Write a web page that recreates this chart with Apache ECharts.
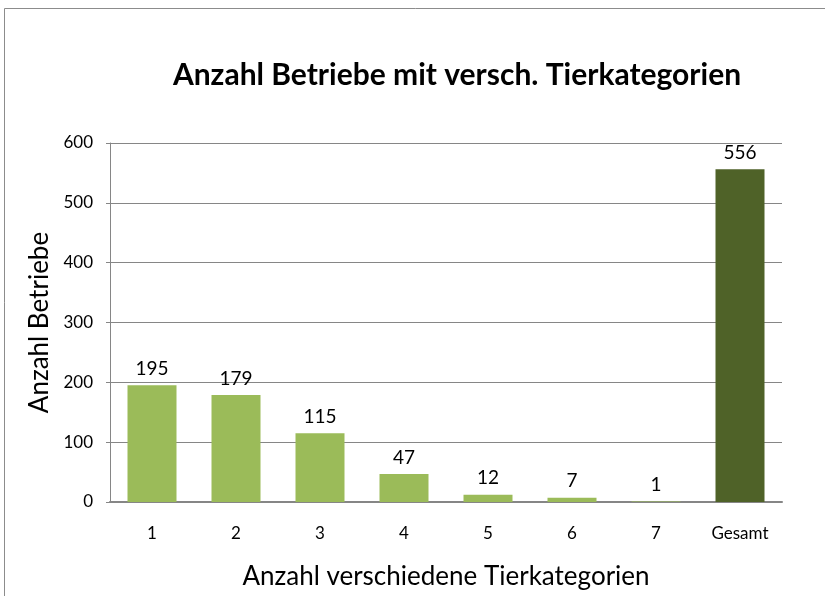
<!DOCTYPE html>
<html><head><meta charset="utf-8">
<script src="https://cdn.jsdelivr.net/npm/echarts@6/dist/echarts.min.js"></script>
<style>html,body{margin:0;padding:0;background:#fff}#c{width:825px;height:596px}</style>
</head><body><div id="c"></div>
<script>
var categories = ['1','2','3','4','5','6','7','Gesamt'];
var values = [195, 179, 115, 47, 12, 7, 1, 556];
var yTicks = [0, 100, 200, 300, 400, 500, 600];
var titleText = 'Anzahl Betriebe mit versch. Tierkategorien';
var xName = 'Anzahl verschiedene Tierkategorien';
var yName = 'Anzahl Betriebe';

var FONT = 'Lato, "Open Sans", sans-serif';
var chart = echarts.init(document.getElementById('c'), null, {renderer:'canvas'});
chart.setOption({
  animation:false,
  backgroundColor:'#fff',
  graphic:[{type:'rect', shape:{x:4.5,y:8.5,width:830,height:600}, style:{fill:'none', stroke:'#8c8c8c', lineWidth:1}}],
  title:{text:titleText, left:452, top:55, textAlign:'center',
    textStyle:{fontFamily:FONT, fontWeight:'bold', fontSize:30, color:'#000'}},
  grid:{left:110, right:43, top:143, bottom:94},
  xAxis:{type:'category', data:categories,
    name:xName, nameLocation:'middle', nameGap:62,
    nameTextStyle:{fontFamily:FONT, fontSize:26, color:'#000'},
    axisLine:{lineStyle:{color:'#868686', width:2}},
    axisTick:{show:false},
    axisLabel:{fontFamily:FONT, fontSize:17, color:'#000', margin:23}},
  yAxis:{type:'value', min:0, max:yTicks[yTicks.length-1], interval:yTicks[1]-yTicks[0],
    name:yName, nameLocation:'middle', nameGap:56, nameRotate:90,
    nameTextStyle:{fontFamily:FONT, fontSize:26, color:'#000'},
    axisLine:{show:true, lineStyle:{color:'#868686'}},
    axisTick:{show:true, length:4, lineStyle:{color:'#868686'}},
    splitLine:{lineStyle:{color:'#868686'}},
    axisLabel:{fontFamily:FONT, fontSize:17, color:'#000', margin:17}},
  series:[{type:'bar', barWidth:49,
    data: values.map(function(v,i){return {value:v, itemStyle:{color: i===values.length-1 ? '#4F6228' : '#9BBB59'}};}),
    label:{show:true, position:'top', distance:7, fontFamily:FONT, fontSize:19, color:'#000'}}]
});
</script></body></html>
